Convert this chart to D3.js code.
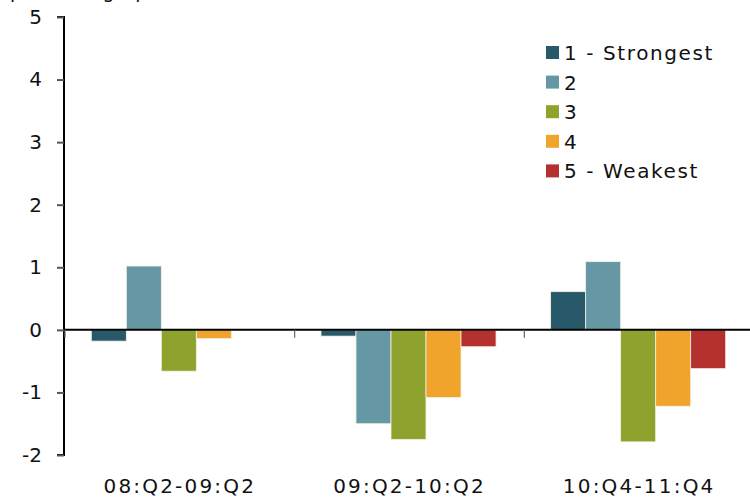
<!DOCTYPE html>
<html><head><meta charset="utf-8">
<script src="https://cdn.jsdelivr.net/npm/d3@7"></script>
<style>body{margin:0;background:#fff}svg{display:block}text{font-family:"DejaVu Sans",Verdana,sans-serif;fill:#111}</style>
</head><body><svg id="c" width="750" height="497"></svg>
<script>
const categories = ["08:Q2-09:Q2","09:Q2-10:Q2","10:Q4-11:Q4"];
const seriesNames = ["1 - Strongest","2","3","4","5 - Weakest"];
const s1 = [-0.18, -0.10, 0.61];
const s2 = [1.02, -1.50, 1.09];
const s3 = [-0.66, -1.75, -1.79];
const s4 = [-0.14, -1.08, -1.22];
const s5 = [0.00, -0.27, -0.62];
const yTicks = [-2,-1,0,1,2,3,4,5];
const colors = ["#27596A","#6697A5","#8EA22D","#F0A42C","#B5312D"];
const allSeries = [s1,s2,s3,s4,s5];

const svg = d3.select("#c");
const x0 = d3.scaleBand().domain(categories).range([64, 753]);
const x1 = d3.scaleBand().domain(seriesNames).range([0, x0.bandwidth()]).paddingOuter(0.78);
const y = d3.scaleLinear().domain([-2,5]).range([455,17]);

// unit label, cut off at the top edge as in the reference
svg.append("text").attr("x",10).attr("y",-2).attr("font-size",19).attr("letter-spacing",1).text("percentage points");

// bars
const g = svg.append("g");
allSeries.forEach((arr,si)=>{
  g.selectAll(null).data(arr.map((v,i)=>({v,c:categories[i]}))).enter().append("rect")
   .attr("x",d=>x0(d.c)+x1(seriesNames[si]))
   .attr("width",x1.bandwidth())
   .attr("y",d=>y(Math.max(0,d.v)))
   .attr("height",d=>Math.abs(y(d.v)-y(0)))
   .attr("fill",colors[si])
   .attr("stroke","#f4f1e4").attr("stroke-width",d=>d.v===0?0:0.8);
});

// y axis
const yAxis = d3.axisLeft(y).tickValues(yTicks).tickSize(7).tickPadding(15).tickFormat(d=>String(d));
const ya = svg.append("g").attr("transform","translate(64,0)").call(yAxis);
ya.select(".domain").attr("stroke","#000").attr("stroke-width",2).attr("d","M-7,17H0V455H-7");
ya.selectAll(".tick line").attr("stroke","#555").attr("stroke-width",2);
ya.selectAll(".tick text").attr("font-size",20).attr("fill","#111").style("font-family","'DejaVu Sans',Verdana,sans-serif");

// zero line with category separators
svg.append("line").attr("x1",64).attr("x2",750).attr("y1",y(0)).attr("y2",y(0)).attr("stroke","#000").attr("stroke-width",2);
const seps = categories.map(c=>x0(c));
svg.selectAll(null).data(seps).enter().append("line")
  .attr("x1",d=>d+1).attr("x2",d=>d+1).attr("y1",y(0)).attr("y2",y(0)+8)
  .attr("stroke","#666").attr("stroke-width",1.2);

// x labels
svg.selectAll(null).data(categories).enter().append("text")
  .attr("x",d=>x0(d)+x0.bandwidth()/2+1).attr("y",493).attr("text-anchor","middle")
  .attr("font-size",20).attr("letter-spacing",2.2).text(d=>d);

// legend
const lg = svg.append("g");
seriesNames.forEach((n,i)=>{
  const cy = 53 + i*29.6;
  lg.append("rect").attr("x",546).attr("y",cy-7).attr("width",13).attr("height",13).attr("fill",colors[i]);
  lg.append("text").attr("x",564).attr("y",cy+7).attr("font-size",20).attr("letter-spacing",1.6).text(n);
});
</script></body></html>
